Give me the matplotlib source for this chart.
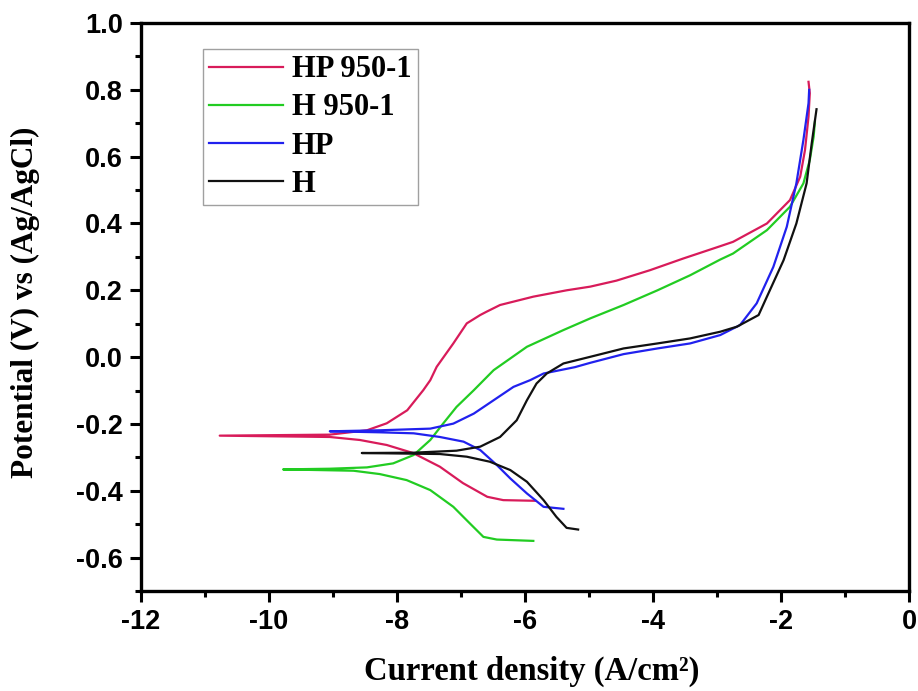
import numpy as np
import matplotlib
matplotlib.use('Agg')
import matplotlib.pyplot as plt
from matplotlib.ticker import MultipleLocator

plt.rcParams['axes.unicode_minus'] = False

# Tafel-криві: log(струм) та потенціал, від катодного кінця через Ecorr до анодного
hp950_x = [-5.84, -6.34, -6.59, -6.97, -7.33, -7.75, -8.16, -8.58, -9.05, -10.77,
           -9.05, -8.47, -8.16, -7.84, -7.59, -7.48, -7.38, -7.12, -6.91, -6.70,
           -6.60, -6.39, -5.87, -5.35, -4.98, -4.57, -4.05, -3.53, -2.95, -2.75,
           -2.22, -1.86, -1.70, -1.625, -1.57, -1.55, -1.57]
hp950_y = [-0.430, -0.428, -0.418, -0.377, -0.328, -0.287, -0.263, -0.248, -0.239, -0.235,
           -0.232, -0.219, -0.198, -0.159, -0.099, -0.069, -0.029, 0.041, 0.101, 0.126,
           0.136, 0.156, 0.181, 0.200, 0.211, 0.229, 0.260, 0.295, 0.332, 0.345,
           0.40, 0.47, 0.54, 0.62, 0.72, 0.79, 0.824]

h950_x = [-5.87, -6.44, -6.65, -6.86, -7.12, -7.48, -7.85, -8.27, -8.68, -9.78,
          -9.05, -8.47, -8.06, -7.74, -7.48, -7.28, -7.07, -6.80, -6.49, -5.97,
          -5.40, -4.98, -4.46, -3.93, -3.42, -2.95, -2.75, -2.22, -1.86, -1.65,
          -1.55, -1.49, -1.47]
h950_y = [-0.550, -0.546, -0.538, -0.498, -0.448, -0.398, -0.368, -0.350, -0.340, -0.336,
          -0.334, -0.330, -0.318, -0.293, -0.248, -0.199, -0.149, -0.099, -0.039, 0.031,
          0.081, 0.116, 0.156, 0.200, 0.245, 0.292, 0.310, 0.38, 0.45, 0.52,
          0.59, 0.66, 0.705]

hp_x = [-5.40, -5.71, -5.97, -6.23, -6.44, -6.70, -6.96, -7.33, -7.74, -8.27, -9.05,
        -8.27, -7.48, -7.12, -6.80, -6.49, -6.18, -5.92, -5.71, -5.22, -4.98,
        -4.46, -3.93, -3.42, -2.95, -2.64, -2.38, -2.12, -1.91, -1.76, -1.65,
        -1.57, -1.56]
hp_y = [-0.454, -0.448, -0.408, -0.363, -0.323, -0.278, -0.253, -0.239, -0.228, -0.225, -0.222,
        -0.219, -0.214, -0.199, -0.169, -0.129, -0.089, -0.069, -0.049, -0.030, -0.017,
        0.009, 0.026, 0.041, 0.066, 0.096, 0.161, 0.27, 0.39, 0.52, 0.65,
        0.76, 0.80]

h_x = [-5.17, -5.35, -5.51, -5.71, -5.97, -6.23, -6.55, -6.91, -7.33, -8.55,
       -7.74, -7.07, -6.70, -6.39, -6.13, -5.97, -5.82, -5.66, -5.40, -4.98,
       -4.46, -3.93, -3.42, -2.95, -2.69, -2.35, -2.22, -1.96, -1.76, -1.60,
       -1.52, -1.445]
h_y = [-0.516, -0.511, -0.478, -0.428, -0.373, -0.338, -0.313, -0.298, -0.290, -0.287,
       -0.286, -0.280, -0.268, -0.239, -0.189, -0.129, -0.079, -0.049, -0.019, 0.001,
       0.026, 0.041, 0.056, 0.076, 0.091, 0.126, 0.181, 0.29, 0.40, 0.52,
       0.64, 0.742]

series = [
    ('HP 950-1', hp950_x, hp950_y, '#d81b5a'),
    ('H 950-1', h950_x, h950_y, '#22cc22'),
    ('HP', hp_x, hp_y, '#2121ee'),
    ('H', h_x, h_y, '#111111'),
]

fig = plt.figure(figsize=(9.18, 6.91), dpi=100)
ax = fig.add_axes([0.1536, 0.1447, 0.8366, 0.8220])

for name, xs, ys, col in series:
    ax.plot(xs, ys, color=col, lw=1.6, label=name)

ax.set_xlim(-12, 0)
ax.set_ylim(-0.7, 1.0)
ax.xaxis.set_minor_locator(MultipleLocator(1))
ax.yaxis.set_minor_locator(MultipleLocator(0.1))
yt = np.arange(-0.6, 1.01, 0.2)
ax.set_yticks(yt)
ax.set_yticklabels([f'{v:.1f}' for v in yt])
ax.set_xticks(np.arange(-12, 1, 2))
ax.set_xticklabels([f'{v:d}' for v in range(-12, 1, 2)])

ax.tick_params(which='major', direction='out', length=8, width=2.2, pad=5)
ax.tick_params(which='minor', direction='out', length=4, width=2.2)
for lab in ax.get_xticklabels() + ax.get_yticklabels():
    lab.set_fontfamily('Liberation Sans')
    lab.set_fontweight('bold')
    lab.set_fontsize(19.5)
for sp in ax.spines.values():
    sp.set_linewidth(2.4)

ax.set_xlabel('Current density (A/cm²)', fontfamily='Liberation Serif',
              fontweight='bold', fontsize=23.5)
ax.set_ylabel('Potential (V) vs (Ag/AgCl)', fontfamily='Liberation Serif',
              fontweight='bold', fontsize=22.5)
ax.xaxis.set_label_coords(0.509, -0.114)
ax.yaxis.set_label_coords(-0.131, 0.509)

leg = ax.legend(loc='upper left', bbox_to_anchor=(0.081, 0.954), borderaxespad=0,
                frameon=True, fancybox=False, handlelength=2.4, handletextpad=0.3,
                labelspacing=0.3, borderpad=0.2,
                prop={'family': 'Liberation Serif', 'weight': 'bold', 'size': 22})
leg.get_frame().set_edgecolor('#888888')
leg.get_frame().set_linewidth(1.0)

plt.savefig('out.png', dpi=100)
